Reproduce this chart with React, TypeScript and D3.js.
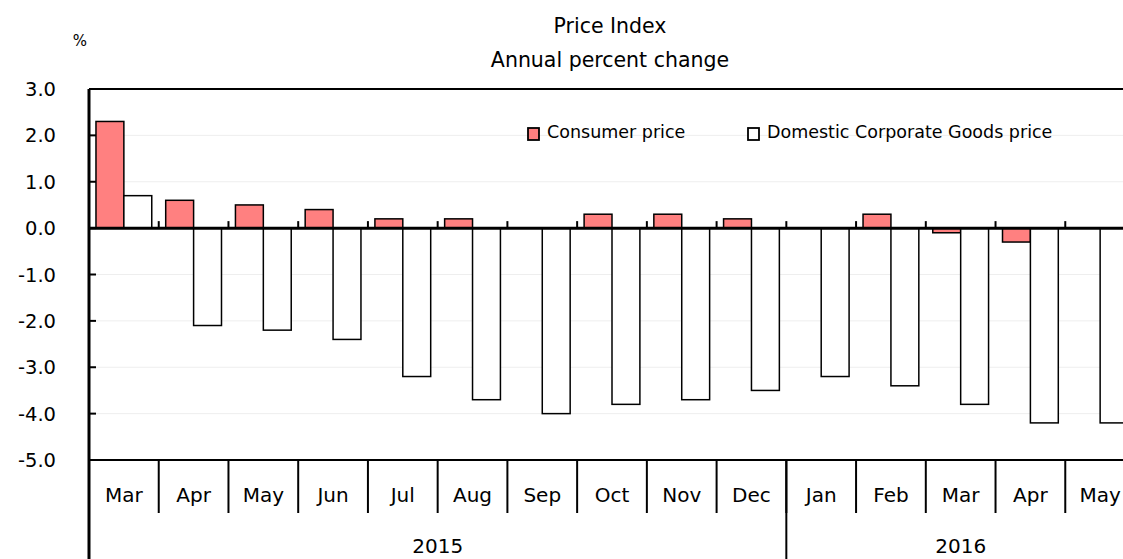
import * as d3 from "d3";

// Monthly categories (Mar 2015 - May 2016)
const months = ["Mar", "Apr", "May", "Jun", "Jul", "Aug", "Sep", "Oct", "Nov", "Dec", "Jan", "Feb", "Mar", "Apr", "May"];
const monthYears = [2015, 2015, 2015, 2015, 2015, 2015, 2015, 2015, 2015, 2015, 2016, 2016, 2016, 2016, 2016];
const years = [2015, 2016];

// Annual percent change
const consumerPrice: (number | null)[] = [2.3, 0.6, 0.5, 0.4, 0.2, 0.2, 0.0, 0.3, 0.3, 0.2, 0.0, 0.3, -0.1, -0.3, null];
const corporateGoodsPrice: (number | null)[] = [0.7, -2.1, -2.2, -2.4, -3.2, -3.7, -4.0, -3.8, -3.7, -3.5, -3.2, -3.4, -3.8, -4.2, -4.2];

const yTicks = [3, 2, 1, 0, -1, -2, -3, -4, -5];

const seriesNames = ["Consumer price", "Domestic Corporate Goods price"];
const seriesColors = ["#ff8080", "#ffffff"];

export default function App() {
  const width = 1123;
  const height = 559;
  const left = 89,
    top = 89,
    bottom = 460,
    right = 1135;
  const font = "DejaVu Sans, Verdana, sans-serif";

  const keys = months.map((m, i) => `${monthYears[i]}-${m}-${i}`);

  const x = d3.scaleBand<string>().domain(keys).range([left, right]).padding(0);
  const inner = d3
    .scaleBand<string>()
    .domain(["cpi", "cgpi"])
    .range([0, x.bandwidth()])
    .paddingInner(0)
    .paddingOuter(0.25);
  const y = d3.scaleLinear().domain([-5, 3]).range([bottom, top]);

  const series = [consumerPrice, corporateGoodsPrice];
  const seriesKeys = ["cpi", "cgpi"];

  // year spans
  const yearSpans = years.map((yr) => {
    const idx = keys.map((k, i) => i).filter((i) => monthYears[i] === yr);
    const x0 = x(keys[idx[0]])!;
    const x1 = x(keys[idx[idx.length - 1]])! + x.bandwidth();
    return { yr, x0, x1 };
  });

  return (
    <svg
      width={width}
      height={height}
      style={{ position: "absolute", left: 0, top: 0, background: "#fff" }}
      fontFamily={font}
    >
      {/* titles */}
      <text x={610} y={33} textAnchor="middle" fontSize={20.5}>
        Price Index
      </text>
      <text x={610} y={67} textAnchor="middle" fontSize={20.5}>
        Annual percent change
      </text>
      <text x={80} y={46} textAnchor="middle" fontSize={15}>
        %
      </text>

      {/* gridlines */}
      {yTicks
        .filter((t) => t !== 0 && t !== 3 && t !== -5)
        .map((t) => (
          <line key={"g" + t} x1={left} x2={right} y1={y(t)} y2={y(t)} stroke="#eeeeee" strokeWidth={1} />
        ))}

      {/* y tick labels and ticks */}
      {yTicks.map((t) => (
        <g key={"t" + t}>
          <text x={56} y={y(t)} dy="0.36em" textAnchor="end" fontSize={19.5}>
            {t.toFixed(1)}
          </text>
          <line x1={left} x2={left + 7} y1={y(t)} y2={y(t)} stroke="#000" strokeWidth={2} />
        </g>
      ))}

      {/* bars */}
      {series.map((vals, si) =>
        vals.map((v, i) =>
          v === null || v === 0 ? null : (
            <rect
              key={`b${si}-${i}`}
              x={x(keys[i])! + inner(seriesKeys[si])!}
              width={inner.bandwidth()}
              y={y(Math.max(0, v))}
              height={Math.abs(y(v) - y(0))}
              fill={seriesColors[si]}
              stroke="#000"
              strokeWidth={1.5}
            />
          )
        )
      )}

      {/* frame */}
      <line x1={left} x2={right} y1={top} y2={top} stroke="#000" strokeWidth={2} />
      <line x1={left} x2={right} y1={bottom} y2={bottom} stroke="#000" strokeWidth={2} />
      <line x1={left} x2={left} y1={top} y2={height} stroke="#000" strokeWidth={3} />

      {/* zero line and boundary ticks */}
      <line x1={left} x2={right} y1={y(0)} y2={y(0)} stroke="#000" strokeWidth={3} />
      {keys.slice(1).map((k) => (
        <line key={"zt" + k} x1={x(k)!} x2={x(k)!} y1={y(0) - 7} y2={y(0)} stroke="#000" strokeWidth={2} />
      ))}

      {/* month axis */}
      {keys.map((k, i) => (
        <g key={"m" + k}>
          <line x1={x(k)! + x.bandwidth()} x2={x(k)! + x.bandwidth()} y1={bottom} y2={513} stroke="#000" strokeWidth={2} />
          <text x={x(k)! + x.bandwidth() / 2} y={502} textAnchor="middle" fontSize={20}>
            {months[i]}
          </text>
        </g>
      ))}

      {/* year axis */}
      {yearSpans.map((s) => (
        <g key={"y" + s.yr}>
          <line x1={s.x1} x2={s.x1} y1={bottom} y2={height} stroke="#000" strokeWidth={2} />
          <text x={(s.x0 + s.x1) / 2} y={553} textAnchor="middle" fontSize={20}>
            {s.yr}
          </text>
        </g>
      ))}

      {/* legend */}
      {seriesNames.map((n, i) => {
        const lx = [528, 748][i];
        return (
          <g key={"l" + i}>
            <rect x={lx} y={128} width={11} height={12} fill={seriesColors[i]} stroke="#000" strokeWidth={1.8} />
            <text x={lx + 19} y={138} fontSize={17.5}>
              {n}
            </text>
          </g>
        );
      })}
    </svg>
  );
}
